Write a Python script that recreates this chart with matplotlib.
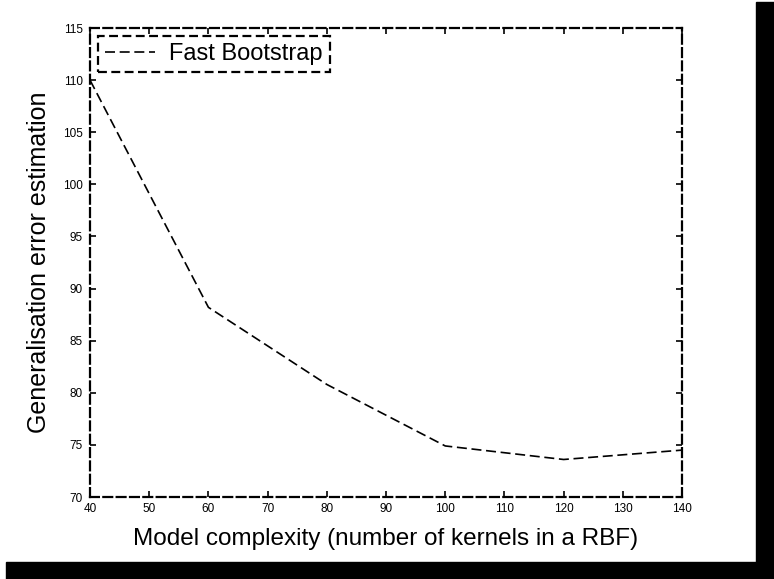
import matplotlib.pyplot as plt
from matplotlib.patches import Rectangle

plt.rcParams['font.family'] = ['Liberation Sans', 'DejaVu Sans']

complexity = [40, 60, 80, 100, 120, 140]
error_est = [110.0, 88.2, 80.8, 74.9, 73.6, 74.5]

fig = plt.figure(figsize=(7.74, 5.79), dpi=100)
ax = fig.add_axes([0.1163, 0.1416, 0.7649, 0.81])

ax.plot(complexity, error_est, color='black', lw=1.2, dashes=(6, 2.8), label='Fast Bootstrap')

ax.set_xlim(40, 140)
ax.set_ylim(70, 115)
ax.set_xticks(range(40, 141, 10))
ax.set_yticks(range(70, 116, 5))
ax.tick_params(direction='in', top=True, right=True, length=4, width=1.2, labelsize=8.5)
ax.tick_params(axis='x', pad=4)
ax.tick_params(axis='y', pad=5)

for sp in ax.spines.values():
    sp.set_linestyle((0, (4, 2)))
    sp.set_linewidth(1.6)

ax.set_xlabel('Model complexity (number of kernels in a RBF)', fontsize=17.5, labelpad=10)
ax.set_ylabel('Generalisation error estimation', fontsize=18, labelpad=9)

leg = ax.legend(loc='upper left', fontsize=17, fancybox=False, framealpha=1,
                handlelength=2.1, borderpad=0.3, borderaxespad=0.35, handletextpad=0.6)
frame = leg.get_frame()
frame.set_edgecolor('black')
frame.set_linestyle((0, (4, 2)))
frame.set_linewidth(1.6)

# black borders at right and bottom of the picture
fig.patches.append(Rectangle((756 / 774, 0), 18 / 774, 577 / 579, transform=fig.transFigure,
                             color='black', zorder=10))
fig.patches.append(Rectangle((6 / 774, 0), 768 / 774, 17 / 579, transform=fig.transFigure,
                             color='black', zorder=10))

plt.savefig('out.png', dpi=100)
